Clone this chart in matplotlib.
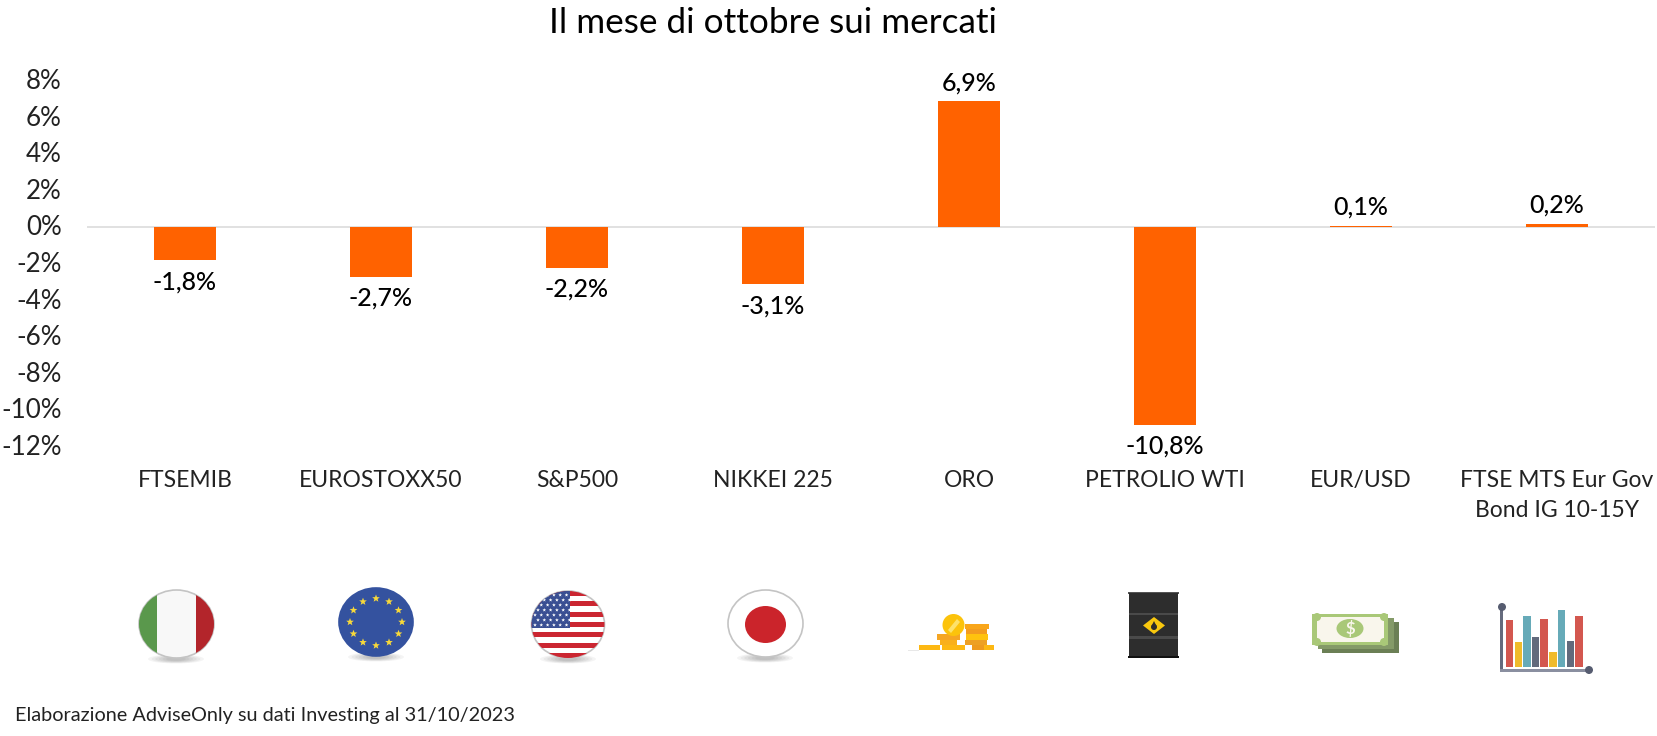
import matplotlib
matplotlib.use('Agg')
import matplotlib.pyplot as plt
import numpy as np
from matplotlib.patches import Ellipse, Rectangle, Polygon
from matplotlib.transforms import ScaledTranslation

plt.rcParams['font.family'] = ['Lato', 'DejaVu Sans']

# Dati del grafico
categorie = ['FTSEMIB', 'EUROSTOXX50', 'S&P500', 'NIKKEI 225', 'ORO', 'PETROLIO WTI', 'EUR/USD',
             'FTSE MTS Eur Gov\nBond IG 10-15Y']
valori = [-1.8, -2.7, -2.2, -3.1, 6.9, -10.8, 0.1, 0.2]
etichette = ['-1,8%', '-2,7%', '-2,2%', '-3,1%', '6,9%', '-10,8%', '0,1%', '0,2%']
tick_y = [8, 6, 4, 2, 0, -2, -4, -6, -8, -10, -12]

W, H = 1658, 736
ARANCIO = '#ff6200'

fig = plt.figure(figsize=(W / 100, H / 100), dpi=100, facecolor='white')
ax = fig.add_axes([87 / W, 1 - 447 / H, (1655 - 87) / W, (447 - 81) / H])

x = np.arange(len(categorie))
ax.bar(x, valori, width=0.315, color=ARANCIO, zorder=3)
ax.set_xlim(-0.5, 7.5)
ax.set_ylim(-12, 8)

for xi, v, e in zip(x, valori, etichette):
    off = 7 if v > 0 else -10
    ax.annotate(e, (xi, v), xytext=(0, off * 0.72), textcoords='offset points', ha='center',
                va='bottom' if v > 0 else 'top', fontsize=18, color='black', fontweight='medium')

for s in ['top', 'right', 'left', 'bottom']:
    ax.spines[s].set_visible(False)
ax.axhline(0, color='#dcdcdc', lw=1.2, zorder=1)
ax.set_yticks(tick_y)
ax.set_yticklabels([f'{t}%' for t in tick_y], fontsize=18.7, color='#222222')
ax.tick_params(axis='y', length=0, pad=18)
# le etichette y stanno 2 px sopra la griglia
for lab in ax.get_yticklabels():
    lab.set_transform(lab.get_transform() + ScaledTranslation(0, 2 / 100, fig.dpi_scale_trans))
ax.set_xticks(x)
ax.set_xticklabels(categorie, fontsize=16.5, color='#222222', linespacing=1.52, va='top')
ax.tick_params(axis='x', length=0, pad=16.5)

fig.text(773 / W, 1 - 23 / H, 'Il mese di ottobre sui mercati', ha='center', va='center',
         fontsize=25.3, color='black')
fig.text(15 / W, 1 - 715 / H, 'Elaborazione AdviseOnly su dati Investing al 31/10/2023', ha='left',
         va='center', fontsize=14.3, color='#222222')

# Icone sotto il grafico, in coordinate pixel
ic = fig.add_axes([0, 0, 1, 1], zorder=5)
ic.set_xlim(0, W)
ic.set_ylim(H, 0)
ic.axis('off')


def rett(x0, y0, x1, y1, col, clip=None, z=6):
    r = Rectangle((x0, y0), x1 - x0, y1 - y0, color=col, lw=0, zorder=z)
    ic.add_patch(r)
    if clip is not None:
        r.set_clip_path(clip)
    return r


def ombra(cx, y, w):
    for k in range(6):
        ic.add_patch(Ellipse((cx, y), w * (1 - k * 0.13), 9 - k, color='#000000', alpha=0.045, lw=0, zorder=4))


def stella(cx, cy, r, col='#f7d83a', clip=None):
    ang = np.pi / 2 + np.arange(10) * np.pi / 5
    rad = np.where(np.arange(10) % 2 == 0, r, r * 0.42)
    p = Polygon(np.c_[cx + rad * np.cos(ang), cy - rad * np.sin(ang)], color=col, lw=0, zorder=8)
    ic.add_patch(p)
    if clip is not None:
        p.set_clip_path(clip)


def disco(cx, cy, w, h, col='white', bordo='#c4c4c4'):
    e = Ellipse((cx, cy), w, h, facecolor=col, edgecolor=bordo, lw=1.2, zorder=5)
    ic.add_patch(e)
    return e


# Italia
ombra(176, 659, 56)
e = disco(176.5, 624, 75, 68, '#f8f8f8')
rett(139, 590, 157, 658, '#5a984c', e)
rett(196, 590, 214, 658, '#b3252b', e)

# Europa
ombra(376, 657, 56)
e = disco(376, 622, 74, 68, '#34529f', '#34529f')
for a in np.arange(12) * np.pi / 6:
    stella(376 + 26 * np.cos(a), 622 + 23.5 * np.sin(a), 4)

# Stati Uniti
ombra(568, 659, 56)
e = disco(568, 624.5, 73, 67, 'white')
alt = 67 / 13
for i in range(0, 13, 2):
    rett(531, 591 + i * alt, 605, 591 + (i + 1) * alt, '#cb2631', e)
rett(531, 591, 570, 628, '#3a4f93', e, z=7)
for r_i in range(7):
    for c_i in range(6):
        stella(535 + c_i * 6.3 + (r_i % 2) * 3, 595 + r_i * 5, 1.9, 'white', e)

# Giappone
ombra(765, 658, 56)
disco(765.5, 623.5, 75, 67, 'white')
ic.add_patch(Ellipse((765.5, 624.5), 41, 37, color='#cb242b', lw=0, zorder=6))

# Oro
rett(908, 650, 919, 651, '#e8e8e8', z=5)
rett(919, 645, 940, 650, '#fdb813')
rett(982, 645, 994, 650, '#fdb813')
rett(937, 634, 960, 640, '#f5a623')
rett(940, 640, 957, 645, '#f9b01c')
rett(942, 645, 965, 650, '#fdb813')
rett(965, 624, 989, 629, '#f9a61a')
rett(966, 629, 987, 634, '#f39c1f')
rett(966, 634, 988, 640, '#ffc20e')
rett(965, 640, 987, 645, '#eda024')
rett(972, 645, 984, 650, '#ee9a1e')
ic.add_patch(Ellipse((953.5, 625), 22, 22, color='#fcc30b', lw=0, zorder=7))
ic.add_patch(Polygon([[948, 630], [957, 619], [960, 622], [951, 633]], color='#fde26b', lw=0, zorder=8))

# Barile
rett(1128, 592, 1179, 594, '#555555')
rett(1129, 593, 1178, 656, '#2d2d2d')
rett(1128, 656, 1179, 658, '#111111')
rett(1129, 612.5, 1178, 615, '#4a4a4a', z=7)
rett(1129, 636, 1178, 638.5, '#4a4a4a', z=7)
ic.add_patch(Polygon([[1154, 617], [1165, 625.5], [1154, 634], [1143, 625.5]], color='#f9c80e', lw=0, zorder=8))
ic.add_patch(Ellipse((1154, 627), 6, 6, color='#2d2d2d', lw=0, zorder=9))
ic.add_patch(Polygon([[1154, 621], [1156.5, 626], [1151.5, 626]], color='#2d2d2d', lw=0, zorder=9))

# Banconote
rett(1322, 622, 1399, 653, '#6b7f55')
rett(1318, 618, 1394, 649, '#849a68', z=7)
rett(1312, 614, 1388, 645, '#a9c878', z=8)
rett(1317, 617, 1384, 642, '#f9f6ec', z=9)
for cx, cy in [(1317, 617), (1384, 617), (1317, 642), (1384, 642)]:
    ic.add_patch(Ellipse((cx, cy), 8, 8, color='#a9c878', lw=0, zorder=10))
ic.add_patch(Ellipse((1350, 628.5), 27, 19, color='#a9c878', lw=0, zorder=10))
ic.text(1350, 628.5, '$', color='#f9f6ec', fontsize=12, ha='center', va='center', zorder=11, fontweight='bold')

# Grafico a barre
bar_x = [1509.5, 1518.5, 1527, 1535.5, 1544, 1553, 1561.5, 1570.5, 1579]
bar_top = [620, 642, 616, 637, 619, 652, 610, 641, 616]
bar_col = ['#d3574f', '#f0bb2b', '#66aab8', '#626a7c', '#d3574f', '#f0bb2b', '#66aab8', '#626a7c', '#d3574f']
for bx, bt, bc in zip(bar_x, bar_top, bar_col):
    rett(bx - 3.7, bt, bx + 3.7, 667, bc)
rett(1500.5, 607, 1503, 671, '#656b7d')
rett(1500.5, 669, 1589, 671.5, '#8a8fa0')
ic.add_patch(Ellipse((1502, 607), 8, 8, color='#565c70', lw=0, zorder=7))
ic.add_patch(Ellipse((1589, 670), 8, 8, color='#565c70', lw=0, zorder=7))

fig.savefig('out.png', dpi=100, facecolor='white')
